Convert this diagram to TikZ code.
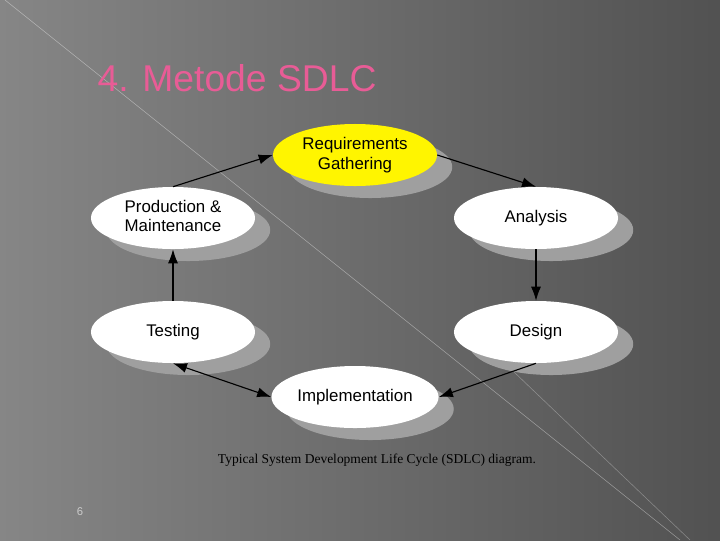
\documentclass[tikz,border=0pt]{standalone}
\usepackage{fontspec}
\setmainfont{Liberation Sans}
\newfontfamily\capfont{Liberation Serif}
\usetikzlibrary{shapes.geometric,arrows.meta,shadows}
\definecolor{titlepink}{RGB}{232,92,150}
\definecolor{reqyellow}{RGB}{255,245,0}
\begin{document}
\begin{tikzpicture}[x=0.025cm,y=-0.025cm,
	phase/.style={ellipse,fill=white,minimum width=4.1cm,minimum height=1.55cm,inner sep=1pt,
		align=center,font=\fontsize{12}{14}\selectfont,
		drop shadow={shadow xshift=0.38cm,shadow yshift=-0.3cm,fill=gray!75,opacity=1}},
	flow/.style={-{Latex[length=3.5mm,width=2.5mm]},thick,black}]
% Fond
\shade[left color=gray!95!white,right color=black!68] (0,0) rectangle (720,540);
\useasboundingbox (0,0) rectangle (720,540);
\draw[white,opacity=0.35] (5,0) -- (680,540);
\draw[white,opacity=0.3] (470,330) -- (690,540);

% Titre
\node[text=titlepink,font=\fontsize{26.5}{30}\selectfont] (titre) at (237,78) {4. Metode SDLC};

% Phases
\node[phase,fill=reqyellow] (req) at (355,155) {Requirements\\Gathering};
\node[phase] (ana) at (536,218) {Analysis};
\node[phase] (des) at (536,332) {Design};
\node[phase] (imp) at (355,397) {Implementation};
\node[phase] (tes) at (173,332) {Testing};
\node[phase] (prod) at (173,218) {\begin{tabular}{@{}l@{}}Production \&\\Maintenance\end{tabular}};

% Fleches
\draw[flow] (prod.north) -- (req.west);
\draw[flow] (req.east) -- (ana.north);
\draw[flow] (ana.south) -- (des.north);
\draw[flow] (des.south) -- (imp.east);
\draw[flow,{Latex[length=3.5mm,width=2.5mm]}-{Latex[length=3.5mm,width=2.5mm]}] (tes.south) -- (imp.west);
\draw[flow] (tes.north) -- (prod.south);

% Legende
\node[font=\capfont\fontsize{9.6}{11}\selectfont,text=black] (legende) at (377,460) {Typical System Development Life Cycle (SDLC) diagram.};
\node[font=\fontsize{8}{10}\selectfont,text=gray!40] (page) at (80,512) {6};
\end{tikzpicture}
\end{document}
